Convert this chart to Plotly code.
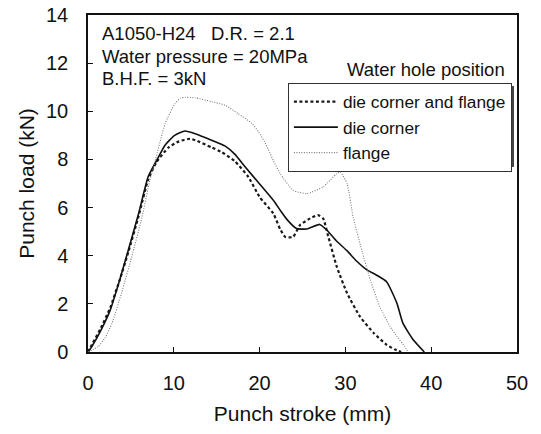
import plotly.graph_objects as go

# ---- data ----
stroke_dcf = [0, 0.45, 1.5, 2.6, 3.7, 4.7, 5.9, 7.0, 8.0, 9.4, 10.6, 11.9, 12.5, 14.4, 15.6, 17.1,
              18.7, 20.0, 21.6, 22.4, 23.0, 23.9, 24.7, 25.9, 26.8, 27.4, 28.0, 29.0, 30.2, 31.7,
              33.3, 34.8, 35.8, 36.5]
load_dcf = [0, 0.3, 1.0, 1.85, 3.0, 4.15, 5.65, 7.15, 7.9, 8.5, 8.75, 8.86, 8.8, 8.5, 8.3, 7.93,
            7.27, 6.44, 5.75, 5.1, 4.78, 4.78, 5.27, 5.55, 5.69, 5.55, 4.8, 3.54, 2.44, 1.47,
            0.79, 0.3, 0.1, 0]

stroke_dc = [0, 0.45, 1.5, 2.6, 3.7, 4.7, 5.9, 7.0, 8.0, 9.0, 10.1, 11.3, 12.5, 14.4, 16.0, 17.1,
             18.3, 20.0, 21.6, 22.4, 23.2, 24.3, 25.5, 27.0, 27.8, 29.0, 30.2, 31.3, 32.5, 33.6,
             34.8, 36.0, 36.7, 37.9, 39.2]
load_dc = [0, 0.23, 0.9, 1.75, 3.0, 4.24, 5.75, 7.27, 7.96, 8.6, 9.0, 9.18, 9.07, 8.8, 8.55, 8.22,
           7.7, 6.98, 6.3, 5.89, 5.5, 5.13, 5.11, 5.3, 5.08, 4.6, 4.2, 3.78, 3.41, 3.2,
           2.92, 2.03, 1.2, 0.51, 0]

stroke_fl = [0, 1.2, 2.0, 2.8, 3.9, 5.1, 6.3, 7.2, 7.8, 9.0, 10.1, 10.8, 11.3, 12.5, 14.4, 16.0,
             17.5, 19.1, 19.9, 20.6, 21.6, 22.4, 23.9, 25.5, 27.4, 29.0, 29.4, 30.2, 30.9, 31.9,
             32.9, 34.0, 35.2, 36.0, 36.9, 37.3]
load_fl = [0, 0.23, 0.6, 1.2, 2.44, 3.96, 5.61, 7.13, 7.9, 9.5, 10.3, 10.55, 10.58, 10.56, 10.4, 10.25,
           9.9, 9.5, 9.13, 8.72, 7.96, 7.41, 6.72, 6.58, 6.86, 7.41, 7.48, 7.0, 5.61, 4.24,
           3.0, 1.89, 1.06, 0.65, 0.23, 0]

series_names = ["die corner and flange", "die corner", "flange"]
x_ticks = [0, 10, 20, 30, 40, 50]
y_ticks = [0, 2, 4, 6, 8, 10, 12, 14]
info_lines = ["A1050-H24\u00a0\u00a0\u00a0D.R. = 2.1", "Water pressure = 20MPa", "B.H.F. = 3kN"]
legend_title = "Water hole position"

FONT = "Arial, Liberation Sans, sans-serif"
INK = "#111111"

fig = go.Figure()
fig.add_trace(go.Scatter(x=stroke_dcf, y=load_dcf, mode="lines", name=series_names[0],
                         line=dict(color="#1a1a1a", width=2.2, dash="3px,2.5px",
                                   shape="spline", smoothing=0.5)))
fig.add_trace(go.Scatter(x=stroke_dc, y=load_dc, mode="lines", name=series_names[1],
                         line=dict(color="#111111", width=1.6, shape="spline", smoothing=0.5)))
fig.add_trace(go.Scatter(x=stroke_fl, y=load_fl, mode="lines", name=series_names[2],
                         line=dict(color="#7a7a7a", width=1.1, dash="1px,1.5px",
                                   shape="spline", smoothing=0.5)))

axis_common = dict(showgrid=False, zeroline=False, showline=True, linecolor="#111",
                   linewidth=1.5, mirror=True, ticks="inside", ticklen=5, tickwidth=1,
                   tickcolor="#111", tickfont=dict(family=FONT, size=20, color=INK),
                   ticklabeloverflow="allow")

fig.update_xaxes(range=[0, 50], tickvals=x_ticks, ticktext=[str(v) for v in x_ticks],
                 ticklabelstandoff=12,
                 title=dict(text="Punch stroke (mm)", font=dict(family=FONT, size=21, color=INK),
                            standoff=14),
                 **axis_common)
fig.update_yaxes(range=[0, 14], tickvals=y_ticks, ticktext=[str(v) for v in y_ticks],
                 ticklabelstandoff=14,
                 title=dict(text="Punch load (kN)", font=dict(family=FONT, size=21, color=INK),
                            standoff=6),
                 **axis_common)

annotations = []
for txt, yy in zip(info_lines, [0.946, 0.878, 0.812]):
    annotations.append(dict(text=txt, x=0.028, y=yy, xref="paper", yref="paper",
                            xanchor="left", yanchor="middle", showarrow=False,
                            font=dict(family=FONT, size=18.5, color=INK)))
annotations.append(dict(text=legend_title, x=0.9767, y=0.8368, xref="paper", yref="paper",
                        xanchor="right", yanchor="middle", showarrow=False,
                        font=dict(family=FONT, size=18.5, color=INK)))

fig.update_layout(
    width=541, height=434,
    margin=dict(l=88, r=24, t=15, b=82, autoexpand=False),
    paper_bgcolor="white", plot_bgcolor="white",
    font=dict(family=FONT, color=INK),
    showlegend=True,
    legend=dict(x=0.466, y=0.7986, xanchor="left", yanchor="top",
                bgcolor="white", bordercolor="#333", borderwidth=1,
                font=dict(family=FONT, size=17.3, color=INK), itemwidth=44,
                tracegroupgap=0),
    shapes=[dict(type="rect", xref="paper", yref="paper", x0=0.473, x1=0.993,
                 y0=0.549, y1=0.789, fillcolor="#444", line=dict(width=0), layer="above")],
    annotations=annotations,
)

# remove the default 8px page margin so the figure fills the window exactly
fig.write_html("out.html",
               config={"displayModeBar": False},
               post_script="document.body.style.margin='0';document.body.style.overflow='hidden';")
